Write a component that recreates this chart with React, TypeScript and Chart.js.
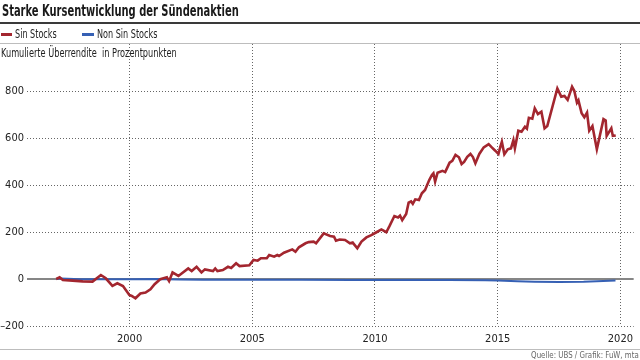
import React, { useEffect, useRef } from "react";
import { Chart, registerables } from "chart.js";

Chart.register(...registerables);

const TITLE = "Starke Kursentwicklung der Sündenaktien";
const SUBTITLE = "Kumulierte Überrendite  in Prozentpunkten";
const SOURCE = "Quelle: UBS / Grafik: FuW, mta";
const SERIES_NAMES = ["Sin Stocks", "Non Sin Stocks"];
const SERIES_COLORS = ["#a3262f", "#3660b4"];

const X_TICKS = [2000, 2005, 2010, 2015, 2020];
const Y_TICKS = [-200, 0, 200, 400, 600, 800];

const sinYears = [
  1997.01, 1997.15, 1997.28, 1997.68, 1998.09, 1998.49, 1998.83, 1999.03, 1999.3, 1999.5,
  1999.73, 1999.99, 2000.09, 2000.24, 2000.44, 2000.65, 2000.85, 2001.02, 2001.25, 2001.52,
  2001.61, 2001.75, 2001.99, 2002.39, 2002.53, 2002.73, 2002.93, 2003.07, 2003.4, 2003.49,
  2003.58, 2003.8, 2004.01, 2004.14, 2004.34, 2004.48, 2004.88, 2005.05, 2005.22, 2005.35,
  2005.59, 2005.69, 2005.89, 2006.02, 2006.09, 2006.29, 2006.63, 2006.76, 2006.9, 2007.17,
  2007.3, 2007.5, 2007.6, 2007.91, 2008.17, 2008.33, 2008.41, 2008.56, 2008.78, 2008.98,
  2009.09, 2009.28, 2009.45, 2009.65, 2009.85, 2010.06, 2010.26, 2010.46, 2010.59, 2010.79,
  2010.94, 2011.02, 2011.11, 2011.27, 2011.37, 2011.47, 2011.54, 2011.64, 2011.79, 2011.91,
  2012.04, 2012.21, 2012.32, 2012.38, 2012.45, 2012.55, 2012.75, 2012.86, 2012.95, 2013.04,
  2013.15, 2013.28, 2013.42, 2013.53, 2013.63, 2013.76, 2013.89, 2013.99, 2014.09, 2014.25,
  2014.43, 2014.63, 2014.76, 2014.9, 2015.03, 2015.1, 2015.17, 2015.27, 2015.41, 2015.54,
  2015.64, 2015.7, 2015.84, 2015.97, 2016.11, 2016.19, 2016.27, 2016.41, 2016.51, 2016.64,
  2016.78, 2016.91, 2017.02, 2017.43, 2017.59, 2017.72, 2017.85, 2018.03, 2018.12, 2018.23,
  2018.29, 2018.42, 2018.53, 2018.64, 2018.73, 2018.86, 2019.04, 2019.31, 2019.4, 2019.44,
  2019.63, 2019.69, 2019.81,
];
const sinValues = [
  0, 7, -4, -7, -10, -11, 17, 3, -29, -18,
  -30, -68, -72, -82, -62, -58, -44, -22, -1, 7,
  -9, 28, 13, 45, 34, 52, 28, 41, 34, 45,
  34, 38, 52, 47, 67, 55, 58, 81, 78, 88,
  88, 102, 95, 102, 98, 112, 126, 116, 135, 152,
  157, 159, 152, 194, 183, 180, 163, 168, 166, 152,
  155, 131, 159, 177, 187, 199, 211, 199, 225, 268,
  262, 270, 251, 277, 325, 330, 320, 339, 336, 365,
  379, 421, 443, 450, 414, 452, 460, 455, 475, 495,
  503, 528, 518, 489, 498, 520, 532, 519, 492, 532,
  560, 574, 560, 546, 532, 560, 584, 531, 552, 556,
  591, 556, 631, 627, 648, 640, 686, 682, 726, 702,
  712, 641, 651, 811, 776, 779, 762, 818, 801, 750,
  760, 705, 688, 708, 631, 651, 552, 680, 674, 609,
  641, 609, 611,
];

const nonSinYears = [
  1997.01, 1997.2, 1998.0, 1999.0, 2000.0, 2001.0, 2002.0, 2003.0, 2005.0, 2007.0,
  2009.0, 2011.0, 2013.0, 2014.5, 2015.0, 2015.8, 2016.5, 2017.5, 2018.5, 2019.3, 2019.8,
];
const nonSinValues = [
  0, 2, -1, -1, -1, 0, -2, -3, -3, -3,
  -4, -4, -4, -5, -6, -10, -12, -13, -12, -8, -6,
];

const X_MIN = 1995.82;
const X_MAX = 2020.54;
const Y_MIN = -200;
const Y_MAX = 1000;

const FONT = "'DejaVu Sans Condensed', 'DejaVu Sans', sans-serif";

const zeroLinePlugin = {
  id: "zeroLine",
  beforeDatasetsDraw(chart: any) {
    const { ctx, chartArea, scales } = chart;
    const y = scales.y.getPixelForValue(0);
    ctx.save();
    ctx.strokeStyle = "#868686";
    ctx.lineWidth = 2;
    ctx.beginPath();
    ctx.moveTo(chartArea.left, y);
    ctx.lineTo(chartArea.right, y);
    ctx.stroke();
    ctx.restore();
  },
};

function Txt(props: {
  children: React.ReactNode;
  left?: number;
  right?: number;
  top: number;
  size: number;
  sx: number;
  bold?: boolean;
  color: string;
}) {
  const { children, left, right, top, size, sx, bold, color } = props;
  const style: React.CSSProperties = {
    position: "absolute",
    top,
    fontFamily: FONT,
    fontSize: size,
    fontWeight: bold ? "bold" : "normal",
    color,
    whiteSpace: "pre",
    lineHeight: 1,
    transform: `scaleX(${sx})`,
    transformOrigin: right !== undefined ? "right top" : "left top",
  };
  if (left !== undefined) style.left = left;
  if (right !== undefined) style.right = right;
  return <div style={style}>{children}</div>;
}

export default function App() {
  const canvasRef = useRef<HTMLCanvasElement | null>(null);

  useEffect(() => {
    if (!canvasRef.current) return;
    const chart = new Chart(canvasRef.current, {
      type: "line",
      data: {
        datasets: [
          {
            label: SERIES_NAMES[0],
            data: sinYears.map((x, i) => ({ x, y: sinValues[i] })),
            borderColor: SERIES_COLORS[0],
            borderWidth: 2.6,
            pointRadius: 0,
            tension: 0,
          },
          {
            label: SERIES_NAMES[1],
            data: nonSinYears.map((x, i) => ({ x, y: nonSinValues[i] })),
            borderColor: SERIES_COLORS[1],
            borderWidth: 2,
            pointRadius: 0,
            tension: 0,
          },
        ],
      },
      options: {
        animation: false,
        responsive: false,
        maintainAspectRatio: false,
        layout: { padding: { top: 44, bottom: 10, left: 0, right: 0 } },
        plugins: { legend: { display: false }, title: { display: false }, tooltip: { enabled: false } },
        scales: {
          x: {
            type: "linear",
            min: X_MIN,
            max: X_MAX,
            afterBuildTicks: (scale: any) => {
              scale.ticks = X_TICKS.map((v) => ({ value: v }));
            },
            afterFit: (scale: any) => {
              scale.height = 24;
            },
            ticks: {
              color: "#222",
              font: { family: FONT, size: 11 },
              padding: 7,
              maxRotation: 0,
              autoSkip: false,
              callback: (v: any) => String(v),
            },
            grid: { color: "#666", lineWidth: 1, drawTicks: false },
            border: { display: false, dash: [1, 2] },
          },
          y: {
            type: "linear",
            min: Y_MIN,
            max: Y_MAX,
            afterBuildTicks: (scale: any) => {
              scale.ticks = Y_TICKS.map((v) => ({ value: v }));
            },
            afterFit: (scale: any) => {
              scale.width = 27;
            },
            ticks: {
              color: "#222",
              font: { family: FONT, size: 11 },
              padding: 3,
              callback: (v: any) => (v < 0 ? "\u2013" + Math.abs(v) : String(v)),
            },
            grid: {
              color: (ctx: any) => (ctx.tick && ctx.tick.value === 0 ? "transparent" : "#666"),
              lineWidth: 1,
              drawTicks: false,
            },
            border: { display: false, dash: [1, 2] },
          },
        },
      },
      plugins: [zeroLinePlugin],
    } as any);
    return () => chart.destroy();
  }, []);

  return (
    <div style={{ position: "relative", width: 640, height: 360, background: "#fff", overflow: "hidden" }}>
      <style>{`body{margin:0}`}</style>
      <canvas ref={canvasRef} width={640} height={360} style={{ position: "absolute", left: 0, top: 0, width: 640, height: 360 }} />
      <Txt left={2} top={3} size={16} sx={0.69} bold color="#1a1a1a">{TITLE}</Txt>
      <div style={{ position: "absolute", left: 0, top: 22, width: 640, height: 2, background: "#3a3a3a" }} />
      <div style={{ position: "absolute", left: 1, top: 33, width: 11, height: 3, background: SERIES_COLORS[0] }} />
      <Txt left={15} top={28} size={12} sx={0.75} color="#222">{SERIES_NAMES[0]}</Txt>
      <div style={{ position: "absolute", left: 82, top: 33, width: 12, height: 3, background: SERIES_COLORS[1] }} />
      <Txt left={97} top={28} size={12} sx={0.75} color="#222">{SERIES_NAMES[1]}</Txt>
      <div style={{ position: "absolute", left: 0, top: 43, width: 640, height: 1, background: "#bdbdbd" }} />
      <Txt left={1} top={47} size={12} sx={0.76} color="#222">{SUBTITLE}</Txt>
      <div style={{ position: "absolute", left: 0, top: 349, width: 640, height: 1, background: "#bdbdbd" }} />
      <Txt right={1} top={351} size={9} sx={0.87} color="#666">{SOURCE}</Txt>
    </div>
  );
}
